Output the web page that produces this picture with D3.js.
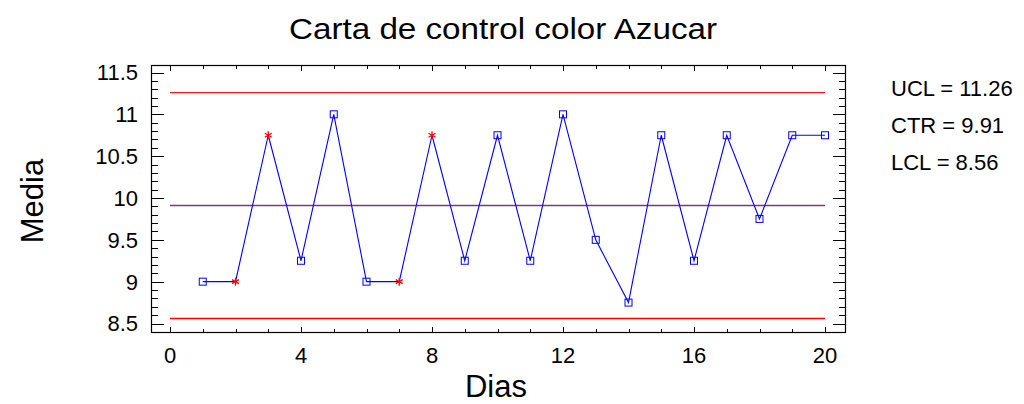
<!DOCTYPE html>
<html>
<head>
<meta charset="utf-8">
<script src="https://cdn.jsdelivr.net/npm/d3@7/dist/d3.min.js"></script>
<style>
  html, body { margin: 0; padding: 0; background: #fff; }
  svg { display: block; font-family: "Liberation Sans", Arial, sans-serif; }
</style>
</head>
<body>
<svg id="chart" width="1024" height="404"></svg>
<script>
// Subgroup means per day
const dias = [1, 2, 3, 4, 5, 6, 7, 8, 9, 10, 11, 12, 13, 14, 15, 16, 17, 18, 19, 20];
const medias = [9, 9, 10.75, 9.25, 11, 9, 9, 10.75, 9.25, 10.75, 9.25, 11, 9.5, 8.75, 10.75, 9.25, 10.75, 9.75, 10.75, 10.75];
// Days flagged by run rules (drawn with asterisks)
const flagged = [2, 3, 7, 8];
// Control limits
const limitNames = ["UCL", "CTR", "LCL"];
const limitValues = [11.26, 9.91, 8.56];
const xTicks = [0, 4, 8, 12, 16, 20];
const yTicks = [8.5, 9, 9.5, 10, 10.5, 11, 11.5];

const svg = d3.select("#chart");
const box = { left: 151, right: 845, top: 65, bottom: 332 };

const x = d3.scaleLinear().domain([0, 20]).range([170, 825]);
const y = d3.scaleLinear().domain([8.5, 11.5]).range([323.5, 72.5]);

// Frame
svg.append("rect")
  .attr("x", box.left + 0.5).attr("y", box.top + 0.5)
  .attr("width", box.right - box.left).attr("height", box.bottom - box.top)
  .attr("fill", "none").attr("stroke", "#000").attr("stroke-width", 1.2);

// Tick marks on all four sides, pointing inward
const yMinor = d3.range(85, 116).map(v => v / 10);
const xMinor = d3.range(0, 21);
const tickG = svg.append("g").attr("stroke", "#000").attr("stroke-width", 1);
yMinor.forEach(v => {
  const major = Math.abs(v * 2 - Math.round(v * 2)) < 1e-6;
  const len = major ? 13 : 7;
  const yy = Math.round(y(v)) + 0.5;
  tickG.append("line").attr("x1", box.left).attr("x2", box.left + len).attr("y1", yy).attr("y2", yy);
  tickG.append("line").attr("x1", box.right + 1).attr("x2", box.right + 1 - len).attr("y1", yy).attr("y2", yy);
});
xMinor.forEach(v => {
  const len = v % 4 === 0 ? 6 : 4;
  const xx = Math.round(x(v)) + 0.5;
  tickG.append("line").attr("x1", xx).attr("x2", xx).attr("y1", box.bottom + 1).attr("y2", box.bottom + 1 - len);
  tickG.append("line").attr("x1", xx).attr("x2", xx).attr("y1", box.top).attr("y2", box.top + len);
});

// Tick labels
svg.append("g").selectAll("text").data(yTicks).join("text")
  .attr("x", 138).attr("y", d => y(d)).attr("dy", "0.36em")
  .attr("text-anchor", "end").attr("font-size", 22).text(d => d3.format("")(d));
svg.append("g").selectAll("text").data(xTicks).join("text")
  .attr("x", d => x(d)).attr("y", 363)
  .attr("text-anchor", "middle").attr("font-size", 22).text(d => d);

// Control limit lines: UCL, CTR, LCL
const limitColors = ["#ff1a1a", "#7a3c6c", "#ff0000"];
const limG = svg.append("g");
limitValues.forEach((v, i) => {
  const yy = y(v);
  limG.append("line")
    .attr("x1", x(0)).attr("x2", x(20)).attr("y1", yy).attr("y2", yy)
    .style("stroke", limitColors[i]).style("stroke-width", "1.4px");
});

// Series line
const pts = dias.map((d, i) => [d, medias[i]]);
svg.append("path").datum(pts)
  .attr("d", d3.line().x(d => x(d[0])).y(d => y(d[1])))
  .attr("fill", "none").attr("stroke", "#0000ff").attr("stroke-width", 1.1);

// Markers
const normal = pts.filter(p => !flagged.includes(p[0]));
const stars = pts.filter(p => flagged.includes(p[0]));
svg.append("g").selectAll("rect").data(normal).join("rect")
  .attr("x", d => x(d[0]) - 3.5).attr("y", d => y(d[1]) - 3.5)
  .attr("width", 7).attr("height", 7)
  .attr("fill", "none").attr("stroke", "#0000ff").attr("stroke-width", 1);
const starG = svg.append("g").attr("stroke", "#ff0000").attr("stroke-width", 1.3);
stars.forEach(d => {
  const cx = x(d[0]), cy = y(d[1]), r = 4;
  [[0, r], [r * 0.87, r * 0.5], [r * 0.87, -r * 0.5]].forEach(([dx, dy]) => {
    starG.append("line").attr("x1", cx - dx).attr("y1", cy - dy).attr("x2", cx + dx).attr("y2", cy + dy);
  });
});

// Limit legend on the right
svg.append("g").selectAll("text").data(limitNames).join("text")
  .attr("x", 891).attr("y", (d, i) => 96 + i * 37)
  .attr("font-size", 22)
  .text((d, i) => `${d} = ${limitValues[i].toFixed(2)}`);

// Titles
svg.append("text").attr("x", 503).attr("y", 39).attr("text-anchor", "middle")
  .attr("font-size", 29).attr("textLength", 428).attr("lengthAdjust", "spacingAndGlyphs")
  .text("Carta de control color Azucar");
svg.append("text").attr("x", 496).attr("y", 397).attr("text-anchor", "middle")
  .attr("font-size", 31).text("Dias");
svg.append("text").attr("transform", "translate(43,201) rotate(-90)")
  .attr("text-anchor", "middle").attr("font-size", 31).text("Media");
</script>
</body>
</html>
